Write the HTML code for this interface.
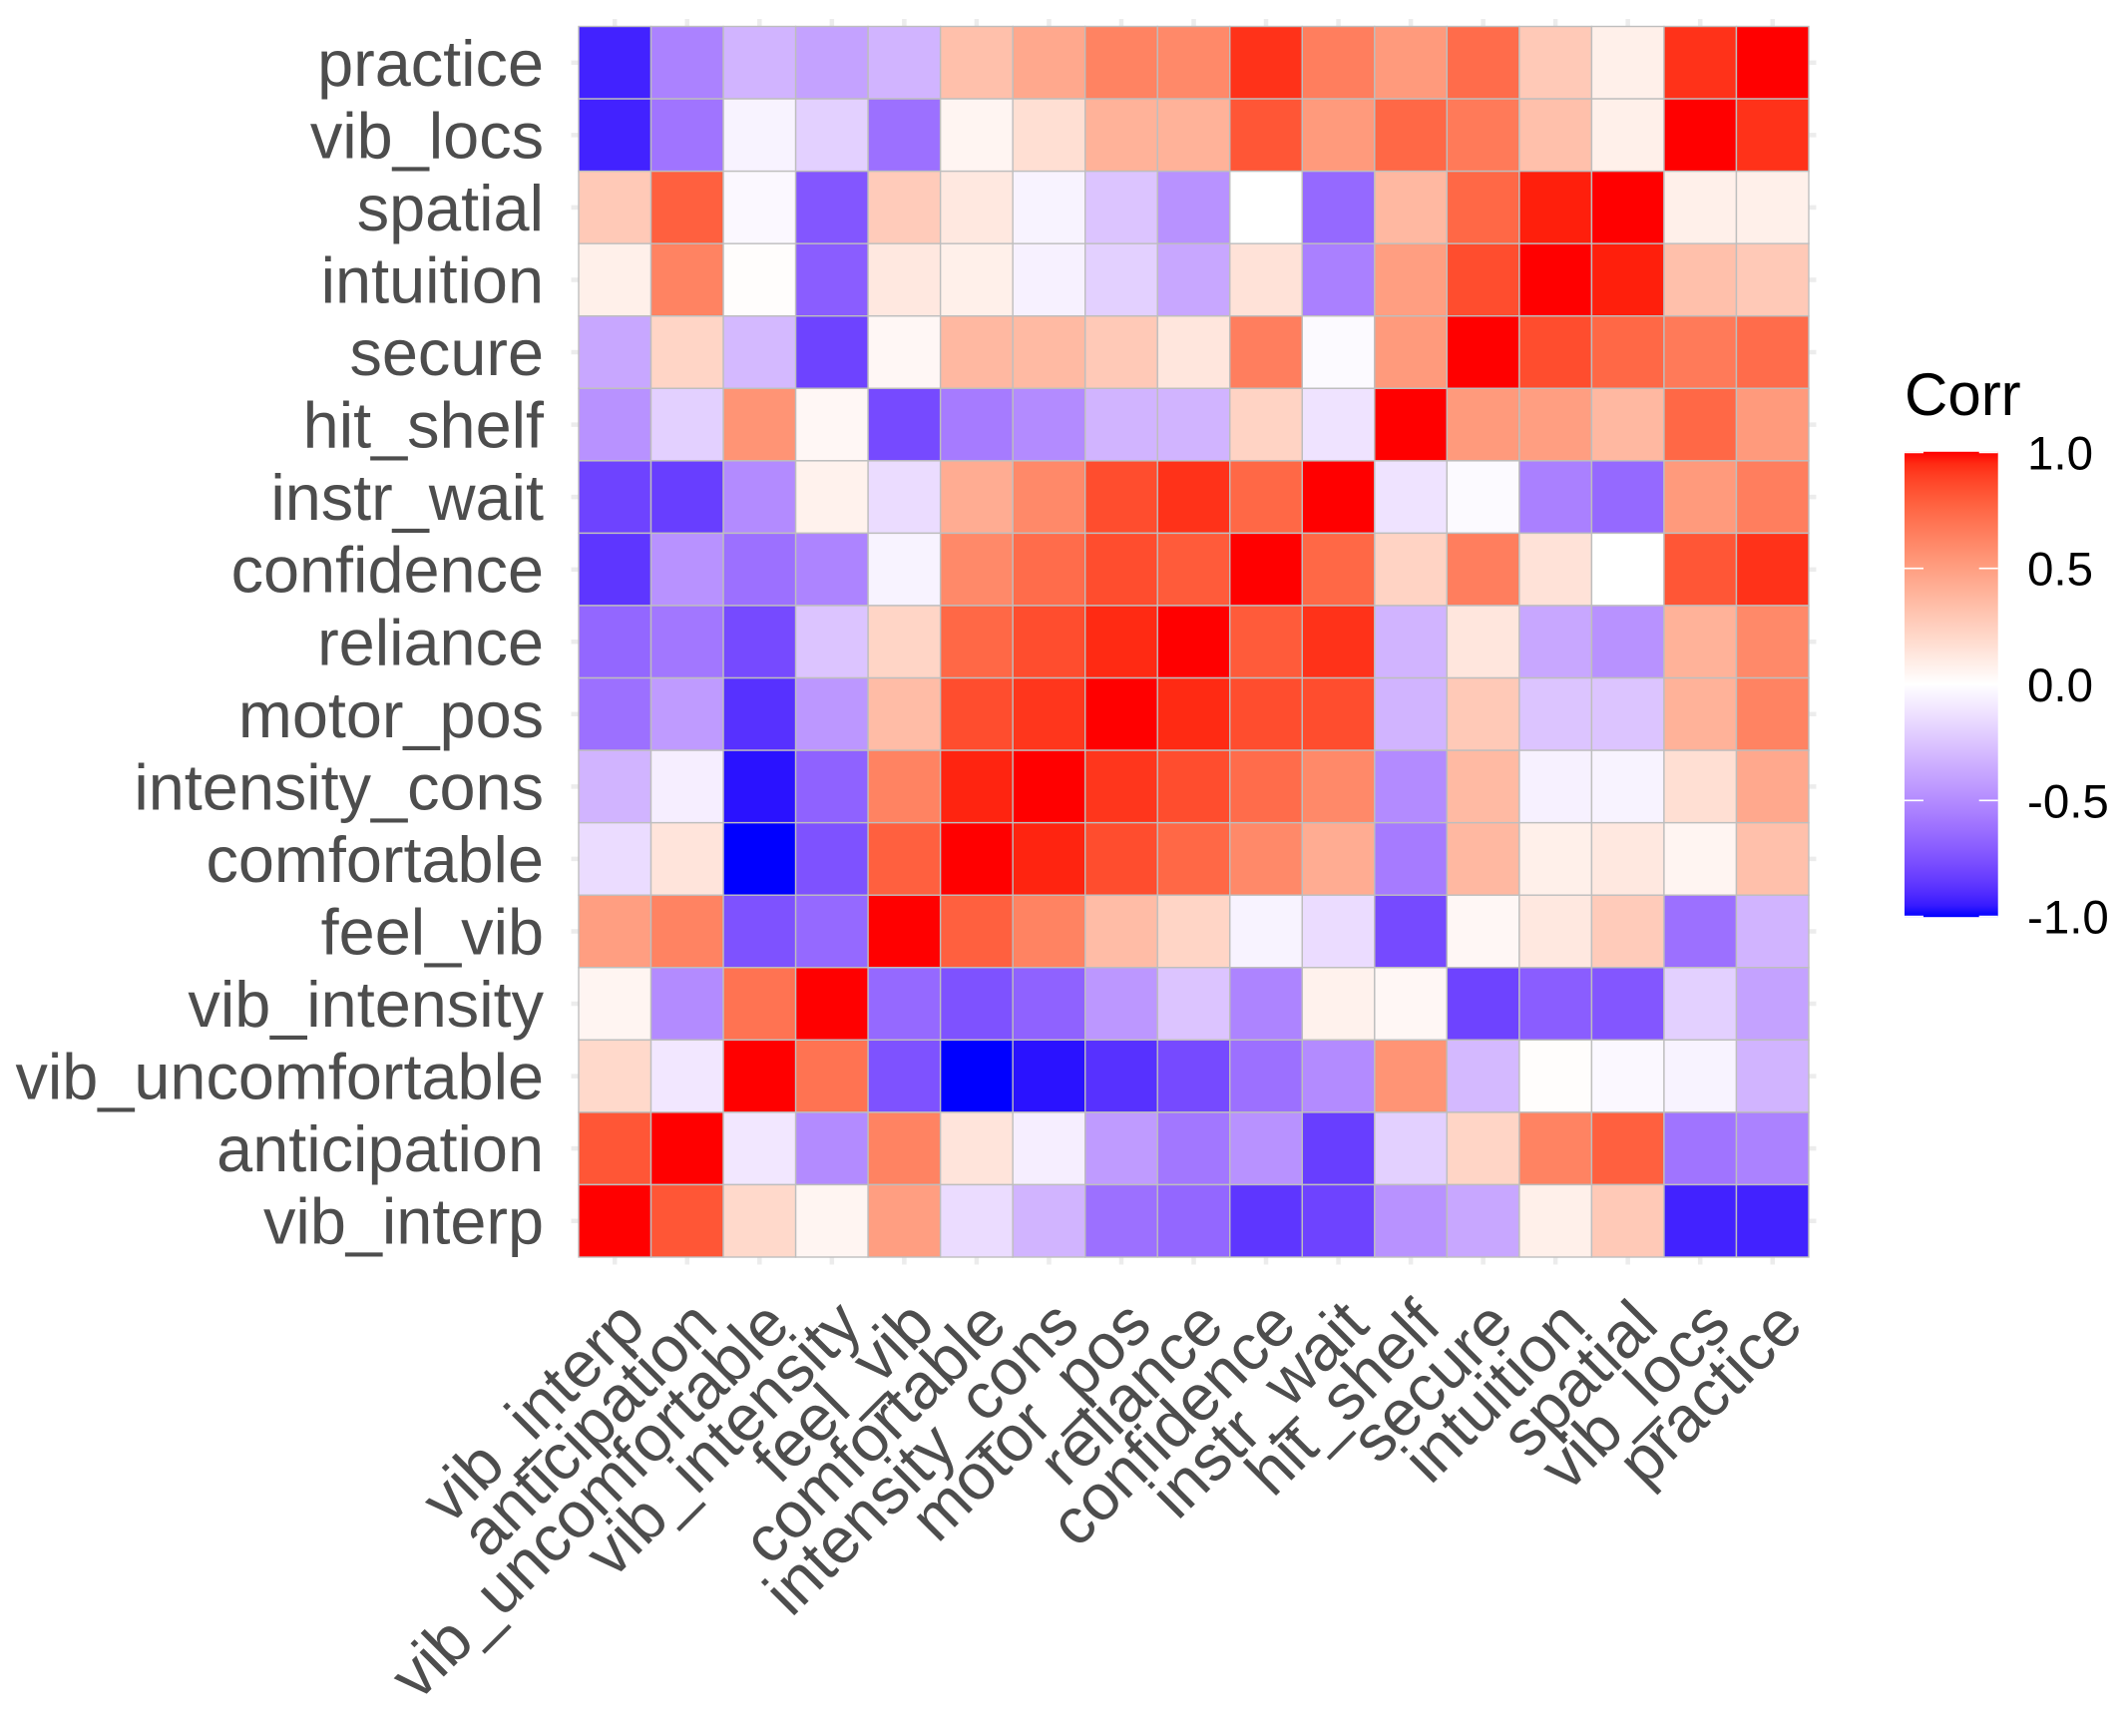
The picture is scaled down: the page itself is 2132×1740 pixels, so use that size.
<!DOCTYPE html>
<html lang="en">
<head>
<meta charset="utf-8">
<title>Correlation heatmap</title>
<style>
html,body{margin:0;padding:0;background:#fff;}
svg{display:block;font-family:"Liberation Sans",sans-serif;}
</style>
</head>
<body>
<svg id="chart" xmlns="http://www.w3.org/2000/svg" width="2132" height="1740" viewBox="0 0 2132 1740">
  <rect x="0" y="0" width="2132" height="1740" fill="#ffffff"/>
  <defs>
    <linearGradient id="legendGradient" x1="0" y1="0" x2="0" y2="1"></linearGradient>
  </defs>
  <g id="grid"></g>
  <g id="cells"></g>
  <g id="yLabels"></g>
  <g id="xLabels"></g>
  <g id="legend">
    <text x="1909" y="416" font-size="60" fill="#000000">Corr</text>
  </g>
</svg>
<script>
const rowLabels = ["practice","vib_locs","spatial","intuition","secure","hit_shelf","instr_wait","confidence","reliance","motor_pos","intensity_cons","comfortable","feel_vib","vib_intensity","vib_uncomfortable","anticipation","vib_interp"];
const colLabels = ["vib_interp","anticipation","vib_uncomfortable","vib_intensity","feel_vib","comfortable","intensity_cons","motor_pos","reliance","confidence","instr_wait","hit_shelf","secure","intuition","spatial","vib_locs","practice"];
const corrPractice = [-.93,-.54,-.32,-.4,-.32,.33,.45,.63,.6,.93,.65,.52,.73,.28,.08,.93,1];
const corrVibLocs = [-.93,-.6,-.05,-.2,-.62,.05,.17,.4,.4,.82,.52,.75,.67,.33,.08,1,.93];
const corrSpatial = [.28,.78,-.03,-.73,.27,.12,-.05,-.25,-.47,0,-.65,.37,.75,.97,1,.08,.08];
const corrIntuition = [.08,.63,.01,-.7,.12,.08,-.06,-.2,-.38,.15,-.55,.5,.85,1,.97,.33,.28];
const corrSecure = [-.38,.22,-.3,-.81,.04,.37,.36,.28,.13,.65,-.02,.52,1,.85,.75,.67,.73];
const corrHitShelf = [-.47,-.2,.55,.04,-.78,-.57,-.5,-.32,-.32,.23,-.12,1,.52,.5,.37,.75,.52];
const corrInstrWait = [-.81,-.83,-.5,.07,-.15,.43,.6,.85,.93,.75,1,-.12,-.02,-.55,-.65,.52,.65];
const corrConfidence = [-.86,-.47,-.62,-.53,-.05,.6,.73,.85,.8,1,.75,.23,.65,.15,0,.82,.93];
const corrReliance = [-.66,-.59,-.78,-.25,.22,.75,.85,.95,1,.8,.93,-.32,.13,-.38,-.47,.4,.6];
const corrMotorPos = [-.62,-.43,-.88,-.45,.35,.85,.92,1,.95,.85,.85,-.32,.28,-.25,-.25,.4,.63];
const corrIntensityCons = [-.32,-.07,-.97,-.68,.63,.96,1,.92,.85,.73,.6,-.5,.36,-.06,-.05,.17,.45];
const corrComfortable = [-.15,.14,-1,-.75,.78,1,.96,.85,.75,.6,.43,-.57,.37,.08,.12,.05,.33];
const corrFeelVib = [.5,.63,-.75,-.65,1,.78,.63,.35,.22,-.05,-.15,-.78,.04,.12,.27,-.62,-.32];
const corrVibIntensity = [.05,-.5,.7,1,-.65,-.75,-.68,-.45,-.25,-.53,.07,.04,-.81,-.7,-.73,-.2,-.4];
const corrVibUncomfortable = [.2,-.1,1,.7,-.75,-1,-.97,-.88,-.78,-.62,-.5,.55,-.3,.01,-.03,-.05,-.32];
const corrAnticipation = [.82,1,-.1,-.5,.63,.14,-.07,-.43,-.59,-.47,-.83,-.2,.22,.63,.78,-.6,-.54];
const corrVibInterp = [1,.82,.2,.05,.5,-.15,-.32,-.62,-.66,-.86,-.81,-.47,-.38,.08,.28,-.93,-.93];
const corrMatrix = [corrPractice,corrVibLocs,corrSpatial,corrIntuition,corrSecure,corrHitShelf,corrInstrWait,corrConfidence,corrReliance,corrMotorPos,corrIntensityCons,corrComfortable,corrFeelVib,corrVibIntensity,corrVibUncomfortable,corrAnticipation,corrVibInterp];
const legendTicks = [1,0.5,0,-0.5,-1];

const NS = "http://www.w3.org/2000/svg";
const plotLeft = 580, plotRight = 1813, plotTop = 26.5, plotBottom = 1260;
const stepX = (plotRight - plotLeft) / colLabels.length;
const stepY = (plotBottom - plotTop) / rowLabels.length;
function xScale(j){ return plotLeft + stepX * j; }
function yScale(i){ return plotTop + stepY * i; }
function legendScale(v){ return 686 - v * 232.6; }

function labToRgb(L,a,b){
  const fy=(L+16)/116, fx=fy+a/500, fz=fy-b/200;
  const g=t=>{const c=t*t*t;return c>0.008856?c:(t-16/116)/7.787;};
  const X=0.95047*g(fx),Y=g(fy),Z=1.08883*g(fz);
  const lin=[3.2406*X-1.5372*Y-0.4986*Z,-0.9689*X+1.8758*Y+0.0415*Z,0.0557*X-0.2040*Y+1.0570*Z];
  const out=lin.map(c=>{
    c=Math.max(0,Math.min(1,c));
    return Math.round(255*(c<=0.0031308?12.92*c:1.055*Math.pow(c,1/2.4)-0.055));
  });
  return "rgb("+out.join(",")+")";
}
function colorScale(v){
  const t=Math.min(1,Math.abs(v));
  return v>=0 ? labToRgb(100-46.77*t,80.1*t,67.2*t) : labToRgb(100-67.7*t,79.2*t,-107.9*t);
}

const gridG=document.getElementById("grid");
const cellsG=document.getElementById("cells");
const yG=document.getElementById("yLabels");
const xG=document.getElementById("xLabels");
const legendG=document.getElementById("legend");

colLabels.forEach(function(name,j){
  const x=xScale(j)+stepX/2;
  const line=document.createElementNS(NS,"line");
  
  
  line.setAttribute("x1",x);line.setAttribute("x2",x);
  line.setAttribute("y1",plotTop-7.5);line.setAttribute("y2",plotBottom+7.5);
  line.setAttribute("stroke","#ececec");line.setAttribute("stroke-width","4.5");
  gridG.appendChild(line);
  const t=document.createElementNS(NS,"text");
  
  
  const bx=x+33, by=1331;
  t.setAttribute("x",bx);t.setAttribute("y",by);
  t.setAttribute("text-anchor","end");
  t.setAttribute("font-size","65");
  t.setAttribute("fill","#4d4d4d");
  t.setAttribute("transform","rotate(-45 "+bx+" "+by+")");
  t.textContent=name;
  xG.appendChild(t);
});

rowLabels.forEach(function(name,i){
  const y=yScale(i)+stepY/2;
  const line=document.createElementNS(NS,"line");
  
  
  line.setAttribute("y1",y);line.setAttribute("y2",y);
  line.setAttribute("x1",plotLeft-7.5);line.setAttribute("x2",plotRight+7.5);
  line.setAttribute("stroke","#ececec");line.setAttribute("stroke-width","4.5");
  gridG.appendChild(line);
  const t=document.createElementNS(NS,"text");
  
  
  t.setAttribute("x",545);t.setAttribute("y",y+23);
  t.setAttribute("text-anchor","end");
  t.setAttribute("font-size","64.8");
  t.setAttribute("fill","#4d4d4d");
  t.textContent=name;
  yG.appendChild(t);
});

corrMatrix.forEach(function(row,i){
  row.forEach(function(v,j){
    const r=document.createElementNS(NS,"rect");
    
    
    r.setAttribute("x",xScale(j));r.setAttribute("y",yScale(i));
    r.setAttribute("width",stepX);r.setAttribute("height",stepY);
    r.setAttribute("fill",colorScale(v));
    r.setAttribute("stroke","#bebebe");r.setAttribute("stroke-width","1.4");
    cellsG.appendChild(r);
  });
});

const grad=document.getElementById("legendGradient");
for(let k=0;k<=40;k++){
  const v=1-k/20;
  const s=document.createElementNS(NS,"stop");
  s.setAttribute("offset",(k/40*100)+"%");
  s.setAttribute("stop-color",colorScale(v));
  grad.appendChild(s);
}
const bar=document.createElementNS(NS,"rect");


bar.setAttribute("x",1909);bar.setAttribute("width",93.7);
bar.setAttribute("y",legendScale(1)-0.6);
bar.setAttribute("height",legendScale(-1)-legendScale(1)+1.2);
bar.setAttribute("fill","url(#legendGradient)");
legendG.appendChild(bar);

legendTicks.forEach(function(v){
  const y=legendScale(v);
  [[1909,1928],[1983.7,2002.7]].forEach(function(seg){
    const tick=document.createElementNS(NS,"line");
    
    
    tick.setAttribute("x1",seg[0]);tick.setAttribute("x2",seg[1]);
    tick.setAttribute("y1",y);tick.setAttribute("y2",y);
    tick.setAttribute("stroke","#ffffff");tick.setAttribute("stroke-width","1.6");
    legendG.appendChild(tick);
  });
  const t=document.createElementNS(NS,"text");
  
  
  t.setAttribute("x",2032);t.setAttribute("y",y+17);
  t.setAttribute("font-size","47.5");
  t.setAttribute("fill","#000000");
  t.textContent=v.toFixed(1);
  legendG.appendChild(t);
});
</script>
</body>
</html>
